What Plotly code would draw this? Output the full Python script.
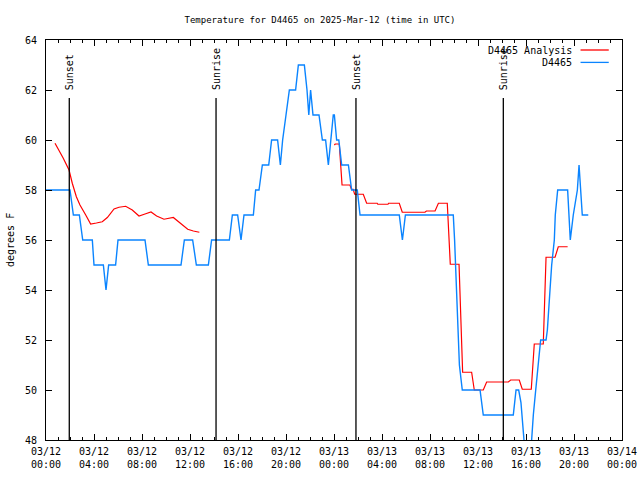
import plotly.graph_objects as go

# ---------------- data ----------------
# hours since 2025-03-12 00:00 UTC
obs_hours = [0.0, 2.0, 2.28, 2.78, 3.06, 3.86, 4.0, 4.78, 5.0, 5.22, 5.8, 6.0,
             8.25, 8.53, 11.25, 11.53, 12.22, 12.53, 13.53, 13.8, 15.28, 15.53,
             15.97, 16.25, 16.5, 17.28, 17.47, 17.75, 18.03, 18.56, 18.8, 19.3,
             19.53, 19.72, 20.0, 20.28, 20.8, 21.03, 21.53, 21.75, 21.9, 22.05,
             22.25, 22.75, 23.03, 23.3, 23.53, 23.72, 23.94, 24.03, 24.22, 24.4,
             24.64, 25.2, 25.47, 25.94, 26.17, 29.44, 29.7, 29.95, 33.94, 34.05,
             34.12, 34.2, 34.28, 34.36, 34.45, 34.69, 36.17, 36.44, 38.94, 39.17,
             39.39, 39.58, 39.78, 40.0, 40.33, 40.44, 40.61, 40.81, 41.03, 41.22,
             41.67, 41.78, 42.0, 42.14, 42.36, 42.44, 42.64, 43.47, 43.69, 43.94,
             44.28, 44.42, 44.69, 45.19]
obs_temps = [58, 58, 57, 57, 56, 56, 55, 55, 54, 55, 55, 56,
             56, 55, 55, 56, 56, 55, 55, 56, 56, 57,
             57, 56, 57, 57, 58, 58, 59, 59, 60, 60,
             59, 60, 61, 62, 62, 63, 63, 62, 61, 62,
             61, 61, 60, 60, 59, 60, 61, 61, 60, 60,
             59, 59, 58, 58, 57, 57, 56, 57, 57, 56,
             55, 54, 53, 52, 51, 50, 50, 49, 49, 50,
             50, 49.5, 48.5, 47, 47, 48, 49, 50, 51, 52,
             52, 52.4, 54, 55, 56, 57, 58, 58, 56, 57,
             58, 59, 57, 57]

ana1_hours = [0.75, 1.08, 1.44, 1.92, 2.19, 2.53, 2.83, 3.31, 3.72, 4.2, 4.69,
              5.11, 5.67, 6.08, 6.64, 7.19, 7.75, 8.25, 8.75, 9.22, 9.83,
              10.61, 11.17, 11.81, 12.28, 12.78]
ana1_temps = [59.87, 59.6, 59.27, 58.8, 58.27, 57.73, 57.4, 57.0, 56.64, 56.68, 56.73,
              56.9, 57.24, 57.31, 57.35, 57.2, 56.96, 57.04, 57.12, 56.96, 56.83,
              56.9, 56.67, 56.43, 56.36, 56.31]

ana2_hours = [24.03, 24.1, 24.44, 24.67, 25.33, 25.45, 25.6, 25.72, 26.44, 26.72,
              27.6, 27.65, 28.5, 28.55, 29.44, 29.69, 31.58, 31.7, 32.42, 32.7,
              33.44, 33.69, 34.42, 34.72, 35.47, 35.69, 36.44, 36.72, 38.53, 38.72,
              39.44, 39.69, 40.44, 40.69, 41.44, 41.67, 42.42, 42.69, 43.47]
ana2_temps = [59.8, 59.84, 59.84, 58.2, 58.2, 58.03, 58.03, 57.83, 57.83, 57.47,
              57.47, 57.43, 57.43, 57.47, 57.47, 57.11, 57.11, 57.16, 57.16, 57.47,
              57.47, 55.03, 55.03, 50.71, 50.71, 50.0, 50.0, 50.32, 50.32, 50.4,
              50.4, 50.03, 50.03, 51.84, 51.84, 55.31, 55.31, 55.73, 55.73]

sun_hours = [1.94, 14.17, 25.83, 38.11]
sun_labels = ["Sunset", "Sunrise", "Sunset", "Sunrise"]

tick_hours = [0, 4, 8, 12, 16, 20, 24, 28, 32, 36, 40, 44, 48]
tick_labels = ["03/12<br>00:00", "03/12<br>04:00", "03/12<br>08:00", "03/12<br>12:00",
               "03/12<br>16:00", "03/12<br>20:00", "03/13<br>00:00", "03/13<br>04:00",
               "03/13<br>08:00", "03/13<br>12:00", "03/13<br>16:00", "03/13<br>20:00",
               "03/14<br>00:00"]

legend_names = ["D4465 Analysis", "D4465"]
title_text = "Temperature for D4465 on 2025-Mar-12 (time in UTC)"
y_title = "degrees F"

# ---------------- figure ----------------
RED = "#ff0000"
BLUE = "#0a84ff"
FONT = "DejaVu Sans Mono"

fig = go.Figure()
fig.add_trace(go.Scatter(x=ana1_hours, y=ana1_temps, mode="lines",
                         line=dict(color=RED, width=1.2), showlegend=False))
fig.add_trace(go.Scatter(x=ana2_hours, y=ana2_temps, mode="lines",
                         line=dict(color=RED, width=1.2), showlegend=False))
fig.add_trace(go.Scatter(x=obs_hours, y=obs_temps, mode="lines",
                         line=dict(color=BLUE, width=1.4), showlegend=False))

for h, lab in zip(sun_hours, sun_labels):
    fig.add_shape(type="line", xref="x", yref="paper", x0=h, x1=h, y0=0, y1=0.855,
                  line=dict(color="black", width=1.3))
    fig.add_annotation(x=h, xref="x", y=0.87, yref="paper", text=lab,
                       textangle=-90, showarrow=False, xanchor="center",
                       yanchor="bottom", font=dict(family=FONT, size=10, color="black"))

# manual gnuplot-style legend
leg_y = [0.975, 0.944]
leg_col = [RED, BLUE]
for name, yy, c in zip(legend_names, leg_y, leg_col):
    fig.add_annotation(x=0.917, xref="paper", y=yy, yref="paper", text=name,
                       showarrow=False, xanchor="right", yanchor="middle",
                       font=dict(family=FONT, size=10, color="black"))
    fig.add_shape(type="line", xref="paper", yref="paper", x0=0.928, x1=0.977,
                  y0=yy, y1=yy, line=dict(color=c, width=1.3))

# y-axis title as rotated annotation
fig.add_annotation(x=-36 / 576, xref="paper", y=0.5, yref="paper", text=y_title,
                   textangle=-90, showarrow=False, xanchor="center", yanchor="middle",
                   font=dict(family=FONT, size=10, color="black"))

axis_common = dict(showline=True, linecolor="black", linewidth=1, mirror="ticks",
                   ticks="inside", ticklen=6, tickcolor="black", tickwidth=1,
                   showgrid=False, zeroline=False, automargin=False,
                   tickfont=dict(family=FONT, size=10, color="black"))

fig.update_xaxes(range=[0, 48], tickmode="array", tickvals=tick_hours,
                 ticktext=tick_labels, ticklabelstandoff=2,
                 minor=dict(tickmode="linear", tick0=0, dtick=1, ticks="inside",
                            ticklen=3, tickcolor="black", showgrid=False),
                 **axis_common)
fig.update_yaxes(range=[48, 64], dtick=2, tick0=48, ticklabelstandoff=6,
                 **axis_common)

fig.update_layout(
    width=640, height=480, autosize=False,
    margin=dict(l=46, r=18, t=40, b=40),
    paper_bgcolor="white", plot_bgcolor="white",
    title=dict(text=title_text, x=0.5, xref="container", xanchor="center",
               y=1 - 20 / 480, yref="container", yanchor="middle",
               font=dict(family=FONT, size=9, color="black")),
    font=dict(family=FONT, size=10, color="black"),
    showlegend=False,
)

fig.write_html("out.html", config={"displayModeBar": False},
               post_script="document.body.style.margin='0';document.body.style.padding='0';")
